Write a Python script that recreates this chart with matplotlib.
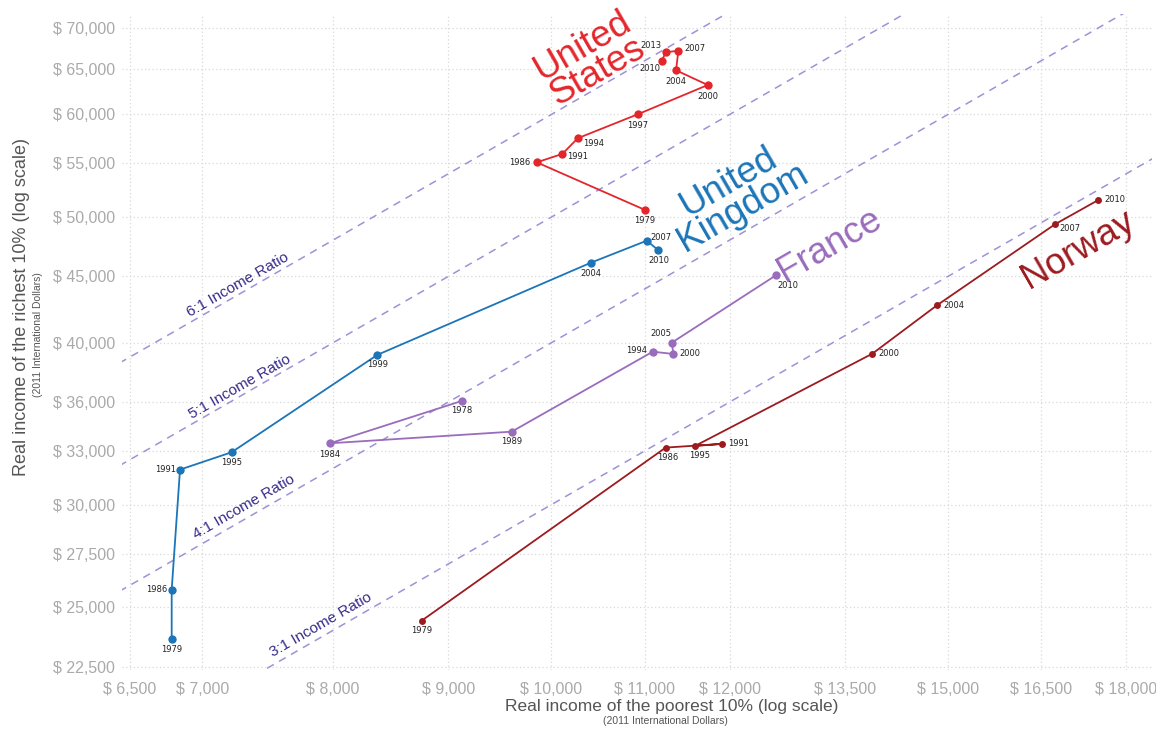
import matplotlib
matplotlib.use("Agg")
import matplotlib.pyplot as plt
import numpy as np

# ---------------- data ----------------
us_years = ["1979", "1986", "1991", "1994", "1997", "2000", "2004", "2007", "2013", "2010"]
us_poor = [11006, 9852, 10113, 10274, 10924, 11734, 11360, 11387, 11241, 11195]
us_rich = [50640, 55110, 55940, 57520, 60020, 63225, 64900, 67200, 67007, 65980]

uk_years = ["1979", "1986", "1991", "1995", "1999", "2004", "2007", "2010"]
uk_poor = [6783, 6783, 6841, 7212, 8370, 10414, 11025, 11157]
uk_rich = [23626, 25796, 31928, 32930, 39145, 46115, 47950, 47140]

fr_years = ["1978", "1984", "1989", "1994", "2000", "2005", "2010"]
fr_poor = [9125, 7975, 9603, 11093, 11329, 11311, 12583]
fr_rich = [36071, 33458, 34155, 39370, 39208, 40006, 45095]

no_years = ["1979", "1986", "1991", "1995", "2000", "2004", "2007", "2010"]
no_poor = [8759, 11240, 11903, 11583, 13885, 14840, 16737, 17495]
no_rich = [24416, 33202, 33420, 33300, 39229, 42775, 49371, 51545]

ratios = [6, 5, 4, 3]
ratio_labels = ["6:1 Income Ratio", "5:1 Income Ratio", "4:1 Income Ratio", "3:1 Income Ratio"]

x_ticks = [6500, 7000, 8000, 9000, 10000, 11000, 12000, 13500, 15000, 16500, 18000]
y_ticks = [22500, 25000, 27500, 30000, 33000, 36000, 40000, 45000, 50000, 55000, 60000, 65000, 70000]

countries = ["United\nStates", "United\nKingdom", "France", "Norway"]

# ---------------- style ----------------
C_US = "#e3262b"
C_UK = "#1b75b8"
C_FR = "#9a6cbc"
C_NO = "#9c1b20"
C_RATIO = "#9d92d8"
C_RATIO_TXT = "#372b8a"

plt.rcParams['font.family'] = ['Liberation Sans', 'DejaVu Sans']

fig = plt.figure(figsize=(11.56, 7.29), dpi=100)
ax = fig.add_axes([122/1156, 1-670/729, (1152-122)/1156, (670-14)/729])
ax.set_xscale('log')
ax.set_yscale('log')
xlim = (6447, 18481)
ylim = (22366, 71724)
ax.set_xlim(*xlim)
ax.set_ylim(*ylim)

for s in ax.spines.values():
    s.set_visible(False)

ax.set_xticks(x_ticks)
ax.set_yticks(y_ticks)
ax.xaxis.set_minor_locator(matplotlib.ticker.NullLocator())
ax.yaxis.set_minor_locator(matplotlib.ticker.NullLocator())
ax.set_xticklabels(["$ {:,}".format(v) for v in x_ticks])
ax.set_yticklabels(["$ {:,}".format(v) for v in y_ticks])
ax.tick_params(axis='both', length=0, labelsize=11.5, labelcolor="#aaaaaa")
ax.tick_params(axis='x', pad=9)
ax.tick_params(axis='y', pad=5)
ax.grid(True, which='major', linestyle=(0, (1, 2)), color="#d9d9d9", linewidth=0.9)
ax.set_axisbelow(True)

# ratio lines
xr = np.array([xlim[0] * 0.95, xlim[1] * 1.05])
ratio_pos = [(7259, 44323), (7274, 36981), (7304, 29882), (7902, 24227)]
for k, lab, (tx, ty) in zip(ratios, ratio_labels, ratio_pos):
    ax.plot(xr, k * xr, linestyle=(0, (5, 4)), color=C_RATIO, linewidth=1.1, zorder=1)
    ax.text(tx, ty, lab, rotation=29.9, rotation_mode='anchor', ha='center', va='center',
            fontsize=11, color=C_RATIO_TXT, zorder=2)

def series(xs, ys, years, color, ms, offs):
    ax.plot(xs, ys, '-', color=color, linewidth=1.3, marker='o', markersize=ms,
            markeredgewidth=0, zorder=3)
    for x, y, yr, (dx, dy, ha) in zip(xs, ys, years, offs):
        ax.annotate(yr, (x, y), xytext=(dx, dy), textcoords='offset pixels',
                    ha=ha, va='center', fontsize=6, color="#222222",
                    family='DejaVu Sans', zorder=4)

us_offs = [(0, -11, 'center'), (-6, 0, 'right'), (5, -3, 'left'), (5, -5, 'left'),
           (0, -11, 'center'), (0, -11, 'center'), (0, -11, 'center'), (6, 2, 'left'),
           (-4, 7, 'right'), (-1, -8, 'right')]
uk_offs = [(0, -10, 'center'), (-4, 0, 'right'), (-4, 0, 'right'), (0, -10, 'center'),
           (0, -10, 'center'), (0, -11, 'center'), (4, 3, 'left'), (0, -10, 'center')]
fr_offs = [(0, -10, 'center'), (0, -11, 'center'), (0, -10, 'center'), (-6, 1, 'right'),
           (6, 0, 'left'), (-11, 9, 'center'), (1, -10, 'left')]
no_offs = [(0, -10, 'center'), (2, -10, 'center'), (6, 0, 'left'), (5, -10, 'center'),
           (6, 0, 'left'), (6, -1, 'left'), (4, -4, 'left'), (6, 0, 'left')]

series(us_poor, us_rich, us_years, C_US, 6, us_offs)
series(uk_poor, uk_rich, uk_years, C_UK, 6, uk_offs)
series(fr_poor, fr_rich, fr_years, C_FR, 6, fr_offs)
series(no_poor, no_rich, no_years, C_NO, 5, no_offs)

# country labels
country_pos = [(10400, 66200), (12074, 52010), (13298, 47588), (17134, 47166)]
for name, (cx, cy), col in zip(countries, country_pos, [C_US, C_UK, C_FR, C_NO]):
    ax.text(cx, cy, name, rotation=30, rotation_mode='anchor', ha='center', va='center',
            fontsize=26.5, color=col, linespacing=0.82, zorder=5)

# axis labels
fig.text(22/1156, 1-307/729, "Real income of the richest 10% (log scale)", rotation=90,
         ha='center', va='center', fontsize=13, color="#555555")
fig.text(38/1156, 1-335/729, "(2011 International Dollars)", rotation=90,
         ha='center', va='center', fontsize=7.5, color="#555555")
fig.text(672/1156, 1-707/729, "Real income of the poorest 10% (log scale)",
         ha='center', va='center', fontsize=12.5, color="#555555")
fig.text(665/1156, 1-721/729, "(2011 International Dollars)",
         ha='center', va='center', fontsize=7.5, color="#555555")

fig.savefig("out.png", dpi=100)
